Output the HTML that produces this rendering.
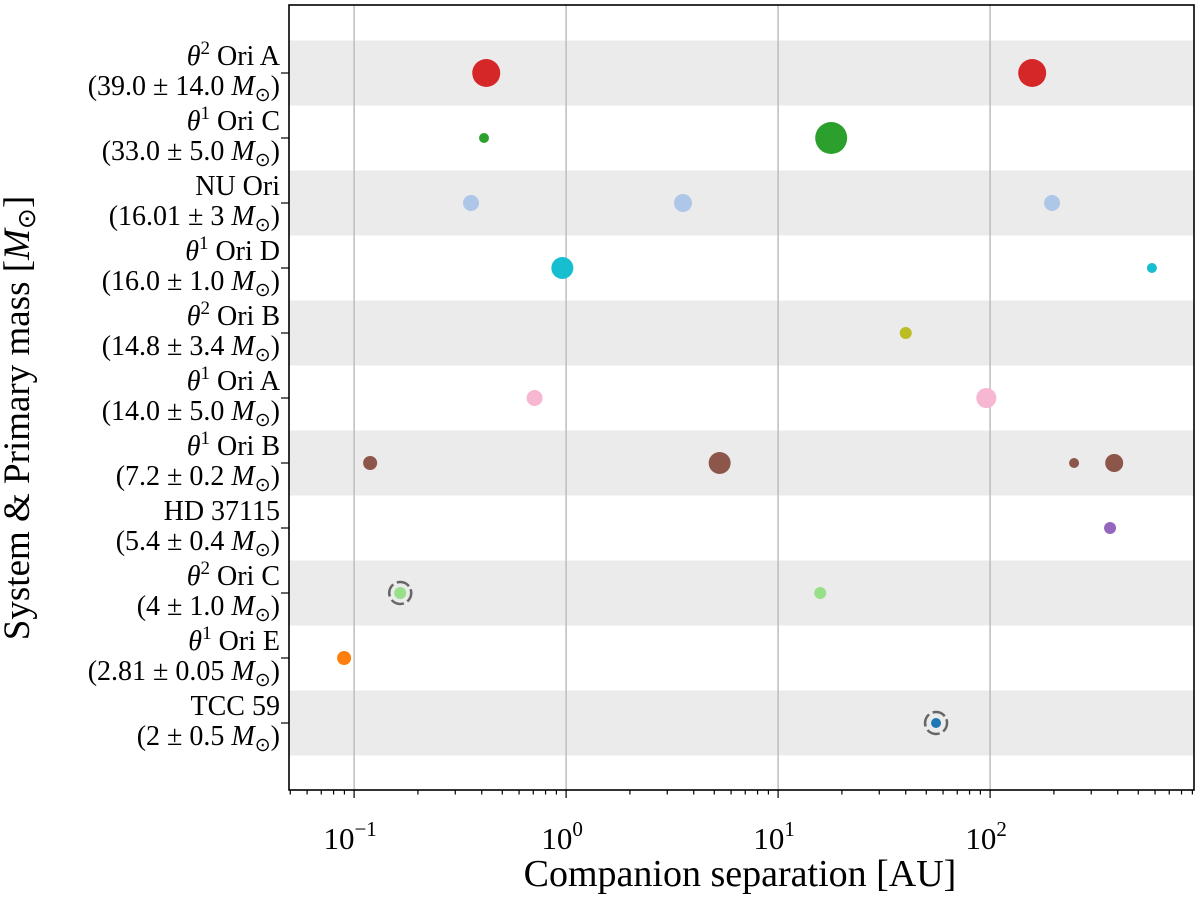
<!DOCTYPE html>
<html><head><meta charset="utf-8"><style>
body{margin:0;background:#fff}
svg text{font-family:"Liberation Serif",serif;fill:#000}
</style></head><body>
<svg id="chart" width="1200" height="896" xmlns="http://www.w3.org/2000/svg"></svg>
<script>
const systems=["θ2 Ori A","θ1 Ori C","NU Ori","θ1 Ori D","θ2 Ori B","θ1 Ori A","θ1 Ori B","HD 37115","θ2 Ori C","θ1 Ori E","TCC 59"];
const supers=["2","1","","1","2","1","1","","2","1",""];
const names=["Ori A","Ori C","NU Ori","Ori D","Ori B","Ori A","Ori B","HD 37115","Ori C","Ori E","TCC 59"];
const masses=["(39.0 ± 14.0 ","(33.0 ± 5.0 ","(16.01 ± 3 ","(16.0 ± 1.0 ","(14.8 ± 3.4 ","(14.0 ± 5.0 ","(7.2 ± 0.2 ","(5.4 ± 0.4 ","(4 ± 1.0 ","(2.81 ± 0.05 ","(2 ± 0.5 "];
const colors=["#d62728","#2ca02c","#aec7e8","#17becf","#bcbd22","#f7b6d2","#8c564b","#9467bd","#98df8a","#ff7f0e","#1f77b4"];
const ptRow=[0,0,1,1,2,2,2,3,3,4,5,5,6,6,6,6,7,8,8,9,10];
const ptSep=[0.42,158,0.41,17.8,0.356,3.56,196,0.96,580,40,0.71,96,0.119,5.3,249,385,368,0.165,15.8,0.0897,55.6];
const ptR=[14,14,5,16,8,9,8,11,5,6,8,10,7,11,5,9,6,6,6,7,5];
const ptRing=[0,0,0,0,0,0,0,0,0,0,0,0,0,0,0,0,0,1,0,0,1];
const xTicks=[0.1,1,10,100];
const xTickExp=["−1","0","1","2"];

const NS="http://www.w3.org/2000/svg";
const svg=document.getElementById('chart');
const L=289,R=1194,T=5,B=790;
const xmin=Math.log10(0.0493),xmax=Math.log10(916);
const X=v=>L+(Math.log10(v)-xmin)/(xmax-xmin)*(R-L);
const Y=i=>73+65*i;
function el(t,a,p){const e=document.createElementNS(NS,t);for(const k in a)e.setAttribute(k,a[k]);(p||svg).appendChild(e);return e;}

systems.forEach((s,i)=>{
  if(i%2===0){const b=el('rect',{x:L,y:Y(i)-32.5,width:R-L,height:65,fill:'#ebebeb'});
  
  }
});
xTicks.forEach(v=>{const g=el('line',{x1:X(v),x2:X(v),y1:T,y2:B,stroke:'#bdbdbd','stroke-width':1.5});

});

ptSep.forEach((v,k)=>{
  const cx=X(v),cy=Y(ptRow[k]);
  if(ptRing[k]){const r=el('circle',{cx,cy,r:11,fill:'none',stroke:'#666','stroke-width':2.5,'stroke-dasharray':'13.3 4','transform':`rotate(-20 ${cx} ${cy})`});
  
  }
  const c=el('circle',{cx,cy,r:ptR[k],fill:colors[ptRow[k]]});
  
  
});

const ax=el('rect',{x:L,y:T,width:R-L,height:B-T,fill:'none',stroke:'#000','stroke-width':1.6});



for(let d=-2;d<=2;d++)for(let m=1;m<10;m++){const v=m*Math.pow(10,d);const x=X(v);if(x<L||x>R)continue;
  el('line',{x1:x,x2:x,y1:B,y2:B+(m===1?8:4.5),stroke:'#000','stroke-width':1.2});}
xTicks.forEach((v,k)=>{const t=el('text',{x:X(v)-4,y:849,'font-size':31,'text-anchor':'middle'});


t.innerHTML=`10<tspan dy="-13" font-size="21">${xTickExp[k]}</tspan>`;});

systems.forEach((s,i)=>{
  el('line',{x1:L-8,x2:L,y1:Y(i),y2:Y(i),stroke:'#000','stroke-width':1.2});
  const t1=el('text',{x:280,y:Y(i)-8,'font-size':28,'text-anchor':'end'});
  
  
  t1.innerHTML=supers[i]?`<tspan font-style="italic">θ</tspan><tspan dy="-11" font-size="19">${supers[i]}</tspan><tspan dy="11"> ${names[i]}</tspan>`:names[i];
  const t2=el('text',{x:280,y:Y(i)+22,'font-size':28,'text-anchor':'end'});
  
  
  t2.innerHTML=`${masses[i]}<tspan font-style="italic">M</tspan><tspan dy="6" font-size="19">⊙</tspan><tspan dy="-6">)</tspan>`;
});

const xt=el('text',{x:740,y:886,'font-size':38,'text-anchor':'middle'});


xt.textContent='Companion separation [AU]';
const yt=el('text',{x:0,y:0,'font-size':37,'text-anchor':'middle',transform:`translate(29 418) rotate(-90)`});


yt.innerHTML='System &amp; Primary mass [<tspan font-style="italic">M</tspan><tspan dy="6" font-size="25">⊙</tspan><tspan dy="-6">]</tspan>';
</script>
</body></html>
